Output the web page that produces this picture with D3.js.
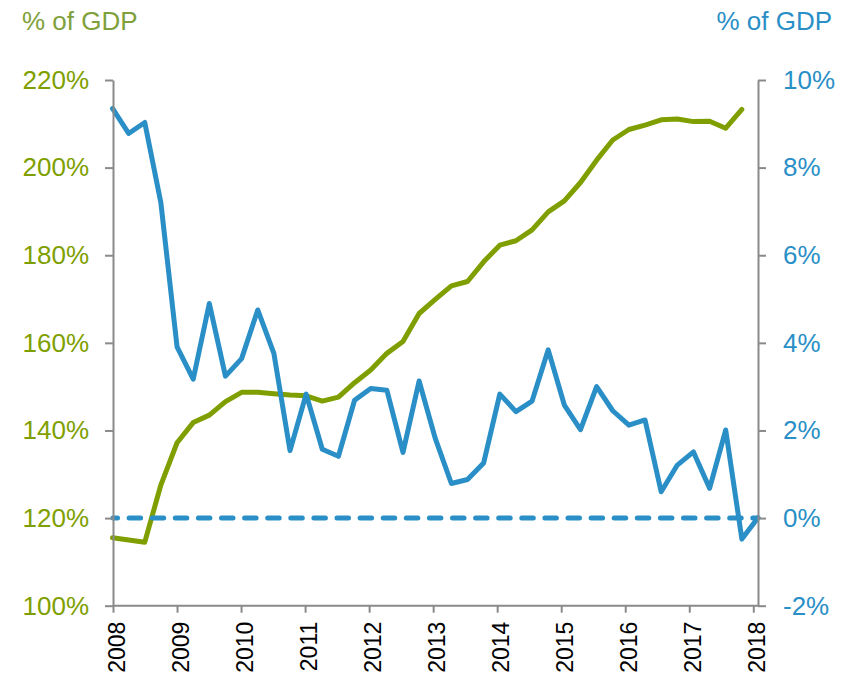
<!DOCTYPE html>
<html>
<head>
<meta charset="utf-8">
<script src="https://cdn.jsdelivr.net/npm/d3@7"></script>
<style>
  body { margin: 0; background: #fff; }
  svg { display: block; font-family: "Liberation Sans", Arial, sans-serif; }
</style>
</head>
<body>
<div id="chart"></div>
<script>
////////////////////////////////////////////////////////////
//////////////////////// Data //////////////////////////////
////////////////////////////////////////////////////////////
// quarterly, 2008 Q1 onwards
var debtValues = [115.5, 115.0, 114.5, 127.6, 137.2, 141.8, 143.5, 146.6, 148.7, 148.7,
	148.4, 148.1, 147.9, 146.7, 147.6, 150.9, 153.8, 157.6, 160.3, 166.7,
	169.9, 173.0, 174.0, 178.5, 182.3, 183.3, 185.8, 189.9, 192.4, 196.6,
	201.7, 206.3, 208.7, 209.7, 210.9, 211.1, 210.5, 210.6, 209.0, 213.3];

var flowValues = [9.35, 8.78, 9.03, 7.19, 3.91, 3.17, 4.90, 3.24, 3.64, 4.75,
	3.76, 1.54, 2.83, 1.57, 1.41, 2.69, 2.96, 2.92, 1.50, 3.13,
	1.82, 0.79, 0.88, 1.26, 2.83, 2.43, 2.67, 3.84, 2.58, 2.02,
	3.00, 2.45, 2.12, 2.24, 0.60, 1.21, 1.51, 0.68, 2.01, -0.48, 0.01];

var yearTicks = [2008, 2009, 2010, 2011, 2012, 2013, 2014, 2015, 2016, 2017, 2018];
var leftTicks = [100, 120, 140, 160, 180, 200, 220];
var rightTicks = [-2, 0, 2, 4, 6, 8, 10];
var axisTitle = "% of GDP";

////////////////////////////////////////////////////////////
//////////////////////// Setup /////////////////////////////
////////////////////////////////////////////////////////////
var width = 848, height = 674,
	plotLeft = 113, plotRight = 758, plotTop = 80, plotBottom = 605.7;

var green = "#7f9f00", greenTitle = "#7fa03a", blue = "#2a8fc6", grey = "#8a8a8a";

var x = d3.scaleLinear().domain([0, flowValues.length - 1]).range([112.5, plotRight]);
var xYear = d3.scaleLinear().domain([2008, 2018]).range([plotLeft, 753.3]);
var yL = d3.scaleLinear().domain([100, 220]).range([plotBottom, plotTop]);
var yR = d3.scaleLinear().domain([-2, 10]).range([plotBottom, plotTop]);

var svg = d3.select("#chart").append("svg")
	.attr("width", width)
	.attr("height", height);

////////////////////////////////////////////////////////////
//////////////////////// Lines /////////////////////////////
////////////////////////////////////////////////////////////
var debtLine = d3.line()
	.x(function(d, i) { return x(i); })
	.y(function(d) { return yL(d); });

var flowLine = d3.line()
	.x(function(d, i) { return x(i); })
	.y(function(d) { return yR(d); });

svg.append("path")
	.datum(debtValues)
	.attr("d", debtLine)
	.attr("fill", "none")
	.attr("stroke", green)
	.attr("stroke-width", 5)
	.attr("stroke-linejoin", "round")
	.attr("stroke-linecap", "round");

svg.append("path")
	.datum(flowValues)
	.attr("d", flowLine)
	.attr("fill", "none")
	.attr("stroke", blue)
	.attr("stroke-width", 5)
	.attr("stroke-linejoin", "round")
	.attr("stroke-linecap", "round");

// zero line
svg.append("line")
	.attr("x1", plotLeft).attr("x2", plotRight)
	.attr("y1", yR(0)).attr("y2", yR(0))
	.attr("stroke", blue)
	.attr("stroke-width", 5)
	.attr("stroke-linecap", "round")
	.attr("stroke-dasharray", "11.5,11.6")
	.attr("stroke-dashoffset", 7);

////////////////////////////////////////////////////////////
//////////////////////// Axes //////////////////////////////
////////////////////////////////////////////////////////////
var gL = svg.append("g")
	.attr("transform", "translate(" + plotLeft + ",0)")
	.call(d3.axisLeft(yL).tickValues(leftTicks).tickSize(8).tickSizeOuter(0).tickPadding(16)
		.tickFormat(function(d) { return d + "%"; }));

var gR = svg.append("g")
	.attr("transform", "translate(" + plotRight + ",0)")
	.call(d3.axisRight(yR).tickValues(rightTicks).tickSize(8).tickSizeOuter(0).tickPadding(17)
		.tickFormat(function(d) { return d + "%"; }));

var gB = svg.append("g")
	.attr("transform", "translate(0," + plotBottom + ")")
	.call(d3.axisBottom(xYear).tickValues(yearTicks).tickSize(7).tickSizeOuter(0).tickFormat(d3.format("d")));

gB.select(".domain").remove();
gB.append("line")
	.attr("x1", plotLeft).attr("x2", plotRight)
	.attr("stroke", grey)
	.attr("stroke-width", 2);

svg.selectAll(".domain, .tick line")
	.attr("stroke", grey)
	.attr("stroke-width", 2);

svg.selectAll(".tick text")
	.attr("font-size", 26)
	.attr("font-family", "Liberation Sans, Arial, sans-serif");

gL.selectAll(".tick text").attr("fill", green);
gR.selectAll(".tick text").attr("fill", blue);

gB.selectAll(".tick text")
	.attr("fill", "#000")
	.attr("font-size", 23)
	.attr("text-anchor", "end")
	.attr("transform", "rotate(-90)")
	.attr("x", -16)
	.attr("y", 0)
	.attr("dy", "0.49em");

// axis titles
svg.append("text")
	.attr("x", 22).attr("y", 30)
	.attr("font-size", 26)
	.attr("fill", greenTitle)
	.text(axisTitle);

svg.append("text")
	.attr("x", 832).attr("y", 30)
	.attr("text-anchor", "end")
	.attr("font-size", 26)
	.attr("fill", blue)
	.text(axisTitle);
</script>
</body>
</html>
